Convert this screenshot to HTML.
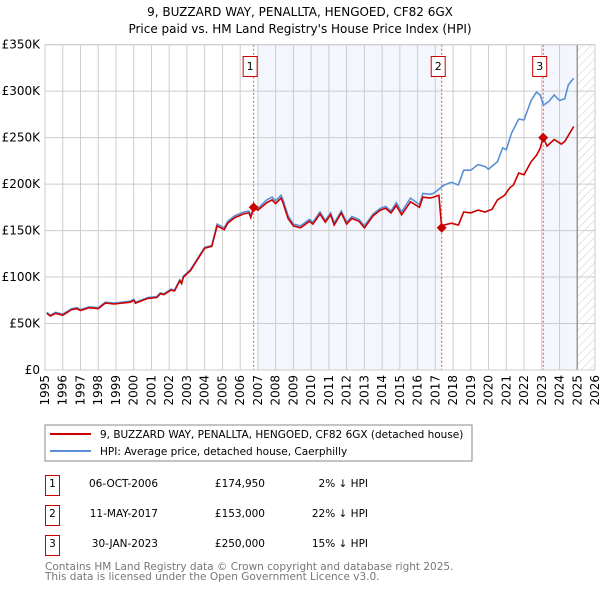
<!DOCTYPE html>
<html><head><meta charset="utf-8"><style>
body{margin:0;background:#fff;}
svg text{font-family:"DejaVu Sans","Liberation Sans",sans-serif;}
</style></head><body>
<svg id="c" width="600" height="590" xmlns="http://www.w3.org/2000/svg">
<defs><pattern id="hatch" width="6" height="6" patternUnits="userSpaceOnUse" patternTransform="rotate(45)"><line x1="0" y1="0" x2="0" y2="6" stroke="#ccc" stroke-width="1"/></pattern></defs>
<text x="300" y="16" text-anchor="middle" font-size="12">9, BUZZARD WAY, PENALLTA, HENGOED, CF82 6GX</text>
<text x="300" y="33" text-anchor="middle" font-size="12">Price paid vs. HM Land Registry's House Price Index (HPI)</text>
<g id="plot"></g>
<rect x="45" y="425" width="427" height="36" fill="#fff" stroke="#888"/>
<line x1="50" y1="434" x2="91" y2="434" stroke="#cc0000" stroke-width="2"/>
<text x="100" y="438" font-size="10.5">9, BUZZARD WAY, PENALLTA, HENGOED, CF82 6GX (detached house)</text>
<line x1="50" y1="451" x2="91" y2="451" stroke="#5b8fd4" stroke-width="2"/>
<text x="100" y="455" font-size="10.5">HPI: Average price, detached house, Caerphilly</text>
<g font-size="10.5">
<rect x="45.5" y="475.5" width="14" height="20" fill="#fff" stroke="#cc0000"/><text x="52.5" y="487" text-anchor="middle">1</text>
<text x="158" y="487" text-anchor="end">06-OCT-2006</text><text x="265" y="487" text-anchor="end">£174,950</text><text x="368" y="487" text-anchor="end">2% ↓ HPI</text>
<rect x="45.5" y="505.5" width="14" height="20" fill="#fff" stroke="#cc0000"/><text x="52.5" y="517" text-anchor="middle">2</text>
<text x="158" y="517" text-anchor="end">11-MAY-2017</text><text x="265" y="517" text-anchor="end">£153,000</text><text x="368" y="517" text-anchor="end">22% ↓ HPI</text>
<rect x="45.5" y="535.5" width="14" height="20" fill="#fff" stroke="#cc0000"/><text x="52.5" y="547" text-anchor="middle">3</text>
<text x="158" y="547" text-anchor="end">30-JAN-2023</text><text x="265" y="547" text-anchor="end">£250,000</text><text x="368" y="547" text-anchor="end">15% ↓ HPI</text>
</g>
<text x="45" y="570" font-size="10.5" fill="#777">Contains HM Land Registry data © Crown copyright and database right 2025.</text>
<text x="45" y="580" font-size="10.5" fill="#777">This data is licensed under the Open Government Licence v3.0.</text>
</svg>
<script>
const yTicks=[0,50000,100000,150000,200000,250000,300000,350000];
const yTickLabels=["£0","£50K","£100K","£150K","£200K","£250K","£300K","£350K"];
const xYears=[1995,1996,1997,1998,1999,2000,2001,2002,2003,2004,2005,2006,2007,2008,2009,2010,2011,2012,2013,2014,2015,2016,2017,2018,2019,2020,2021,2022,2023,2024,2025,2026];
const hpiDates=[1995.1,1995.3,1995.6,1996.0,1996.5,1996.8,1997.0,1997.5,1998.0,1998.4,1998.9,1999.8,2000.0,2000.1,2000.8,2001.3,2001.5,2001.7,2002.1,2002.3,2002.6,2002.7,2002.8,2003.2,2003.5,2003.8,2004.0,2004.4,2004.7,2004.9,2005.1,2005.3,2005.7,2006.2,2006.5,2006.6,2006.8,2007.0,2007.5,2007.8,2008.0,2008.3,2008.4,2008.7,2009.0,2009.4,2009.9,2010.1,2010.5,2010.8,2011.1,2011.3,2011.7,2012.0,2012.3,2012.7,2013.0,2013.5,2013.9,2014.2,2014.5,2014.8,2015.1,2015.6,2016.1,2016.3,2016.7,2016.9,2017.1,2017.5,2017.9,2018.3,2018.6,2019.0,2019.4,2019.8,2020.0,2020.5,2020.8,2021.0,2021.3,2021.7,2022.0,2022.4,2022.7,2022.9,2023.1,2023.4,2023.7,2024.0,2024.3,2024.5,2024.8];
const hpiValues=[62000,59000,62000,60000,66000,67000,65000,68000,67000,73000,72000,74000,76000,73000,78000,79000,83000,82000,87000,86000,97000,94000,101000,108000,117000,126000,132000,134000,157000,155000,153000,160000,166000,170000,171000,166000,175000,174000,183000,186000,182000,188000,184000,166000,157000,155000,162000,159000,170000,161000,169000,158000,171000,159000,165000,162000,155000,168000,174000,176000,171000,180000,170000,185000,178000,190000,189000,190000,193000,199000,202000,199000,215000,215000,221000,219000,216000,224000,239000,237000,255000,270000,269000,290000,299000,296000,285000,289000,296000,290000,292000,307000,314000];
const redDates=[1995.1,1995.3,1995.6,1996.0,1996.5,1996.8,1997.0,1997.5,1998.0,1998.4,1998.9,1999.8,2000.0,2000.1,2000.8,2001.3,2001.5,2001.7,2002.1,2002.3,2002.6,2002.7,2002.8,2003.2,2003.5,2003.8,2004.0,2004.4,2004.7,2004.9,2005.1,2005.3,2005.7,2006.2,2006.5,2006.6,2006.76,2007.0,2007.5,2007.8,2008.0,2008.3,2008.4,2008.7,2009.0,2009.4,2009.9,2010.1,2010.5,2010.8,2011.1,2011.3,2011.7,2012.0,2012.3,2012.7,2013.0,2013.5,2013.9,2014.2,2014.5,2014.8,2015.1,2015.6,2016.1,2016.3,2016.7,2016.9,2017.2,2017.36,2017.5,2017.9,2018.3,2018.6,2019.0,2019.4,2019.8,2020.2,2020.5,2020.9,2021.2,2021.4,2021.7,2022.0,2022.4,2022.7,2022.9,2023.08,2023.3,2023.7,2024.1,2024.3,2024.8];
const redValues=[61000,58000,61000,59000,65000,66000,64000,67000,66000,72000,71000,73000,75000,72000,77000,78000,82000,81000,86000,85000,96000,93000,100000,107000,116000,125000,131000,133000,155000,153000,151000,158000,164000,168000,169000,164000,174950,172000,180000,183000,179000,185000,181000,163000,155000,153000,160000,157000,168000,159000,167000,156000,169000,157000,163000,160000,153000,166000,172000,174000,169000,177000,167000,181000,175000,186000,185000,186000,188000,153000,156000,158000,156000,170000,169000,172000,170000,173000,183000,188000,196000,199000,212000,210000,224000,231000,238000,250000,241000,248000,243000,246000,262000];
const saleDates=[2006.76,2017.36,2023.08];
const salePrices=[174950,153000,250000];
const saleLabels=["1","2","3"];

const L=45,R=595,T=44.7,B=370;
const xs=y=>L+(y-1995)/(2026-1995)*(R-L);
const ys=v=>B-v/350000*(B-T);
const NS="http://www.w3.org/2000/svg";
const g=document.getElementById('plot');
function mk(t,a){const e=document.createElementNS(NS,t);for(const k in a)e.setAttribute(k,a[k]);g.appendChild(e);return e;}
let e=mk('rect',{x:xs(2007),y:T,width:xs(saleDates[1])-xs(2007),height:B-T,fill:'#f3f6fd'});

e=mk('rect',{x:xs(saleDates[2]),y:T,width:xs(2025)-xs(saleDates[2]),height:B-T,fill:'#f3f6fd'});

e=mk('rect',{x:xs(2025),y:T,width:R-xs(2025),height:B-T,fill:'url(#hatch)'});

yTicks.forEach((v,i)=>{
 let l=mk('line',{x1:L,x2:R,y1:ys(v),y2:ys(v),stroke:'#ccc'});
 
 let t=mk('text',{x:L-5,y:ys(v)+4,'text-anchor':'end','font-size':12});
 t.textContent=yTickLabels[i];
 
});
xYears.forEach(y=>{
 let l=mk('line',{x1:xs(y),x2:xs(y),y1:T,y2:B,stroke:'#ccc'});
 
 let t=mk('text',{x:0,y:0,'text-anchor':'end','font-size':12,transform:`translate(${xs(y)+4},${B+5}) rotate(-90)`});
 t.textContent=y;
 
});
e=mk('line',{x1:xs(2025),x2:xs(2025),y1:T,y2:B,stroke:'#999','stroke-width':1.5});

saleDates.forEach((d,i)=>{
 let l=mk('line',{x1:xs(d),x2:xs(d),y1:T,y2:B,stroke:'#e05555','stroke-dasharray':'2,2','stroke-width':1});
 
});
function path(ds,vs){return ds.map((d,i)=>(i?'L':'M')+xs(d).toFixed(1)+','+ys(vs[i]).toFixed(1)).join('');}
e=mk('path',{d:path(hpiDates,hpiValues),fill:'none',stroke:'#5b8fd4','stroke-width':1.6});

e=mk('path',{d:path(redDates,redValues),fill:'none',stroke:'#cc0000','stroke-width':1.6});

saleDates.forEach((d,i)=>{
 const cx=xs(d),cy=ys(salePrices[i]);
 let p=mk('path',{d:`M${cx},${cy-5}L${cx+5},${cy}L${cx},${cy+5}L${cx-5},${cy}Z`,fill:'#cc0000'});
 
 let r=mk('rect',{x:cx-10.5,y:56.5,width:14,height:20,fill:'#fff',stroke:'#cc0000'});
 
 let t=mk('text',{x:cx-3.5,y:70,'text-anchor':'middle','font-size':11});
 t.textContent=saleLabels[i];
 
});
e=mk('rect',{x:L,y:T,width:R-L,height:B-T,fill:'none',stroke:'#ccc'});

</script>
</body></html>
